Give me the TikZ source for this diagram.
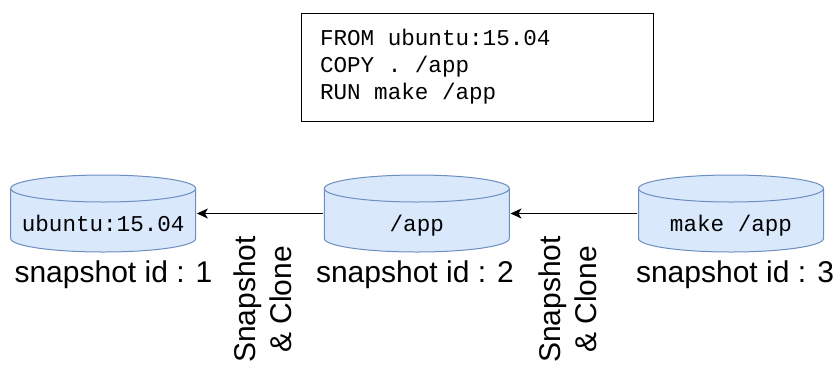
\documentclass[tikz,border=0pt]{standalone}
\usepackage{fontspec}
\setmainfont{Liberation Sans}
\newfontfamily\codefont{Liberation Mono}[WordSpace={1,0,0}]
\newcommand\codespacing{\spaceskip=\fontdimen2\font\relax\xspaceskip=\fontdimen2\font\relax}
\usetikzlibrary{arrows.meta}
\definecolor{cylfill}{HTML}{DAE8FC}
\definecolor{cylline}{HTML}{6C8EBF}
\tikzset{
  cyl/.style={minimum width=187pt, minimum height=79pt, inner sep=0pt,
    font=\codefont\fontsize{22.6}{27}\selectfont, text height=36pt, text depth=0pt,
    path picture={
      \filldraw[fill=cylfill, draw=cylline, line width=1pt]
        ([shift={(1pt,-14.5pt)}]path picture bounding box.north west)
        -- ([shift={(1pt,14.5pt)}]path picture bounding box.south west)
        arc[start angle=180, end angle=360, x radius=92.5pt, y radius=13.5pt]
        -- ([shift={(-1pt,-14.5pt)}]path picture bounding box.north east)
        arc[start angle=0, end angle=180, x radius=92.5pt, y radius=13.5pt]
        -- cycle;
      \draw[draw=cylline, line width=1pt]
        ([shift={(1pt,-14.5pt)}]path picture bounding box.north west)
        arc[start angle=180, end angle=360, x radius=92.5pt, y radius=13.5pt];
    }},
  codebox/.style={draw=black, line width=1pt, inner xsep=19pt, inner ysep=0pt,
    text width=314pt, minimum height=108pt, align=left,
    font=\codefont\fontsize{22.6}{27}\selectfont},
  idlabel/.style={inner sep=0pt, anchor=base, font=\fontsize{30}{36}\selectfont},
  edgelabel/.style={inner sep=0pt, rotate=90, align=center, font=\fontsize{30}{36}\selectfont},
  arr/.style={draw=black, line width=1pt, -{Stealth[length=11pt, width=10pt, inset=3pt]}}
}
\begin{document}
\begin{tikzpicture}[x=1pt, y=1pt]
\useasboundingbox (0,0) rectangle (840,-365);
\node[codebox] (code) at (477,-67) {\codespacing FROM ubuntu:15.04\\COPY . /app\\RUN make /app};
\node[cyl] (c1) at (103.2,-213.5) {ubuntu:15.04};
\node[cyl] (c2) at (416.8,-213.5) {/app};
\node[cyl] (c3) at (731,-213.5) {make /app};
\node[idlabel] (l1) at (113.5,-282) {snapshot id : 1};
\node[idlabel] (l2) at (415,-282) {snapshot id : 2};
\node[idlabel] (l3) at (735,-282) {snapshot id : 3};
\draw[arr] (c2.west) -- (c1.east);
\draw[arr] (c3.west) -- (c2.east);
\node[edgelabel] (s1) at (263,-299.5) {Snapshot\\\& Clone};
\node[edgelabel] (s2) at (568,-299.5) {Snapshot\\\& Clone};
\end{tikzpicture}
\end{document}
